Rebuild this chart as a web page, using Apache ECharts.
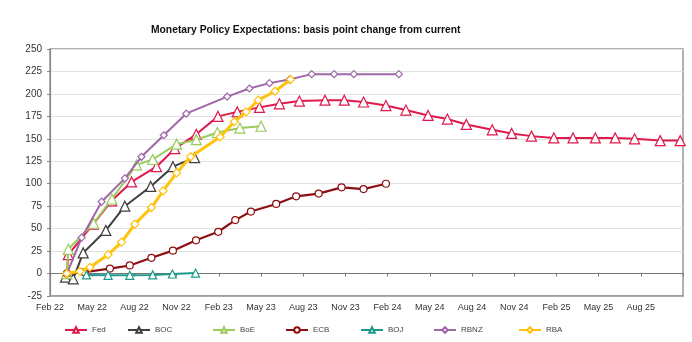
<!DOCTYPE html>
<html>
<head>
<meta charset="utf-8">
<script src="https://cdn.jsdelivr.net/npm/echarts@6/dist/echarts.min.js"></script>
<style>
html,body{margin:0;padding:0;background:#fff;}
#chart{width:692px;height:342px;}
</style>
</head>
<body>
<div id="chart"></div>
<script>
// x values are months since Feb 2022 (0 = Feb 22)
var xTickLabels = ['Feb 22','May 22','Aug 22','Nov 22','Feb 23','May 23','Aug 23','Nov 23','Feb 24','May 24','Aug 24','Nov 24','Feb 25','May 25','Aug 25',''];
var yTicks = [-25, 250, 25];

var seriesNames = ['Fed','BOC','BoE','ECB','BOJ','RBNZ','RBA'];

var fedMonths = [1.2, 1.3, 3.07, 4.38, 5.8, 7.57, 8.87, 10.4, 11.94, 13.31, 14.89, 16.31, 17.73, 19.55, 20.92, 22.29, 23.88, 25.3, 26.88, 28.25, 29.6, 31.44, 32.82, 34.23, 35.82, 37.18, 38.77, 40.18, 41.56, 43.38, 44.8];
var fedValues = [0, 21, 55, 81, 102, 119, 139, 155, 175, 180, 185, 189, 192, 193, 193, 191, 187, 182, 176, 172, 166, 160, 156, 153, 151, 151, 151, 151, 150, 148, 148];

var bocMonths = [1.1, 1.65, 2.36, 3.97, 5.32, 7.16, 8.74, 10.28];
var bocValues = [-4, -6, 23, 48, 75, 97, 119, 129];

var boeMonths = [1.2, 1.3, 3.1, 4.4, 6.15, 7.3, 9.0, 10.4, 11.9, 13.5, 15.0];
var boeValues = [0, 27, 56, 83, 121, 127, 144, 149, 157, 162, 164];

var ecbMonths = [1.2, 2.45, 4.26, 5.67, 7.21, 8.74, 10.38, 11.96, 13.17, 14.28, 16.08, 17.5, 19.1, 20.73, 22.29, 23.88];
var ecbValues = [0, 1.5, 5.5, 9, 17.5, 25.5, 37, 46.5, 59.5, 69, 77.5, 86, 89, 96, 94, 100];

var bojMonths = [2.59, 4.13, 5.67, 7.3, 8.7, 10.35];
var bojValues = [-1.5, -2, -2, -1.5, -0.5, 0.5];

var rbnzMonths = [1.2, 2.25, 3.67, 5.32, 6.5, 8.09, 9.68, 12.6, 14.18, 15.6, 17.02, 18.6, 20.2, 21.6, 24.8];
var rbnzValues = [0, 40, 80, 106, 130, 154, 178, 197, 206, 212, 216, 222, 222, 222, 222];

var rbaMonths = [1.2, 2.13, 2.84, 4.13, 5.09, 6.03, 7.21, 8.04, 9.0, 10.0, 12.1, 13.1, 13.95, 14.8, 16.0, 17.1];
var rbaValues = [0, 2.5, 7, 21, 35, 55, 73.5, 92, 112, 130, 152, 169, 180, 193, 203, 216];

function pairs(xs, ys){ return xs.map(function(x,i){ return [x, ys[i]]; }); }

var allMonths = [fedMonths, bocMonths, boeMonths, ecbMonths, bojMonths, rbnzMonths, rbaMonths];
var allValues = [fedValues, bocValues, boeValues, ecbValues, bojValues, rbnzValues, rbaValues];
var colors = ['#E0194B','#3F3F3F','#9BCB5C','#8E0F12','#1E9A8C','#9E67A8','#FFC20E'];
var symbols = ['triangle','triangle','triangle','circle','triangle','diamond','diamond'];
var symbolSizes = [10, 10, 10, 7, 8, 7, 8];
var lineWidths = [2, 2, 2, 2.2, 2, 2, 3];
var legendLefts = [59, 122, 207, 280, 355, 428, 513];

var series = seriesNames.map(function(name, i){
  return {
    name: name,
    type: 'line',
    data: pairs(allMonths[i], allValues[i]),
    symbol: symbols[i],
    symbolSize: symbolSizes[i],
    showAllSymbol: true,
    lineStyle: {color: colors[i], width: lineWidths[i]},
    itemStyle: {color: '#fff', borderColor: colors[i], borderWidth: 1.2},
    color: colors[i],
    animation: false,
    z: 2 + i
  };
});

var legends = seriesNames.map(function(name, i){
  return {
    data: [{name: name, itemStyle: {color: '#fff', borderColor: colors[i]}}],
    left: legendLefts[i],
    top: 321,
    itemWidth: 22,
    itemHeight: 7,
    textStyle: {fontFamily: 'Liberation Sans', fontSize: 8, color: '#444'}
  };
});

var chart = echarts.init(document.getElementById('chart'));
chart.setOption({
  animation: false,
  backgroundColor: '#fff',
  title: {
    text: 'Monetary Policy Expectations: basis point change from current',
    left: 146, top: 20,
    textStyle: {fontFamily: 'Liberation Sans', fontSize: 10.3, fontWeight: 'bold', color: '#111'}
  },
  legend: legends,
  grid: {left: 50, right: 9, top: 49, bottom: 46, show: true, borderColor: '#999', borderWidth: 1.5, backgroundColor: '#fff'},
  xAxis: [{
    type: 'value', min: 0, max: 45, interval: 3,
    position: 'bottom',
    axisLine: {onZero: false, show: true, lineStyle: {color: '#999', width: 1.5}},
    axisTick: {show: false},
    splitLine: {show: false},
    axisLabel: {
      margin: 7, fontFamily: 'Liberation Sans', fontSize: 9, color: '#333',
      formatter: function(v){ return xTickLabels[Math.round(v/3)]; }
    }
  },{
    type: 'value', min: 0, max: 45, interval: 3,
    position: 'top',
    axisLine: {onZero: true, show: true, lineStyle: {color: '#777', width: 1}},
    axisTick: {show: true, inside: true, length: 3, lineStyle: {color: '#777'}},
    axisLabel: {show: false},
    splitLine: {show: false}
  }],
  yAxis: {
    type: 'value', min: yTicks[0], max: yTicks[1], interval: yTicks[2],
    axisLine: {show: true, lineStyle: {color: '#888', width: 1.2}},
    axisTick: {show: true, length: 3, lineStyle: {color: '#888'}},
    splitLine: {lineStyle: {color: '#e2e2e2', width: 1}},
    axisLabel: {margin: 8, fontFamily: 'Liberation Sans', fontSize: 10, color: '#333'}
  },
  series: series
});
</script>
</body>
</html>
